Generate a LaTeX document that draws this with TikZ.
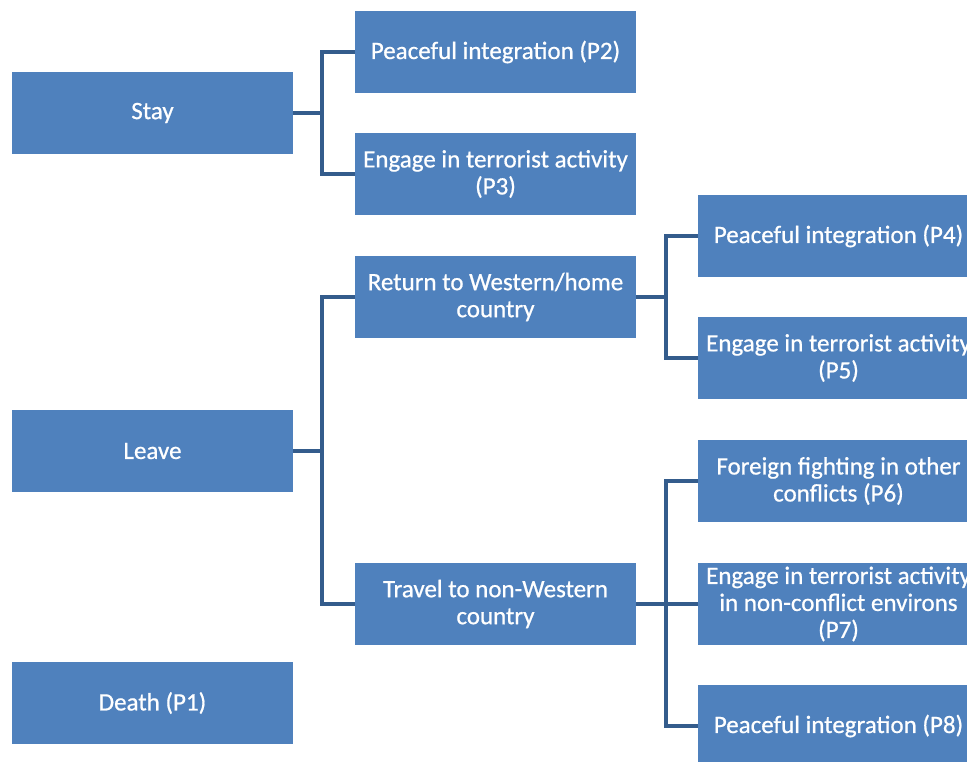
\documentclass[tikz,border=0pt]{standalone}
\usepackage{fontspec}
\setmainfont{Carlito}
\newfontfamily\boxfont[FakeBold=0.7]{Carlito}
\definecolor{boxblue}{RGB}{79,129,189}
\definecolor{linkblue}{RGB}{52,92,140}
\begin{document}
\begin{tikzpicture}[x=1pt,y=-1pt,
  box/.style={fill=boxblue, text=white, minimum width=281pt, minimum height=82pt,
    inner sep=0pt, align=center, font=\boxfont\fontsize{25}{27}\selectfont},
  link/.style={draw=linkblue, line width=4pt}]
\useasboundingbox (0,0) rectangle (967,762);
\clip (0,0) rectangle (967,762);
% column 1
\node[box] (stay)  at (152.5,113) {Stay};
\node[box] (leave) at (152.5,451) {Leave};
\node[box] (death) at (152.5,703) {Death (P1)};
% column 2
\node[box] (p2)     at (495.5,52)  {Peaceful integration (P2)};
\node[box] (p3)     at (495.5,174) {Engage in terrorist activity\\(P3)};
\node[box] (ret)    at (495.5,297) {Return to Western/home\\country};
\node[box] (trav)   at (495.5,604) {Travel to non-Western\\country};
% column 3
\node[box] (p4) at (838.5,236) {Peaceful integration (P4)};
\node[box] (p5) at (838.5,358) {Engage in terrorist activity\\(P5)};
\node[box] (p6) at (838.5,481) {Foreign fighting in other\\conflicts (P6)};
\node[box] (p7) at (838.5,604) {Engage in terrorist activity\\in non-conflict environs\\(P7)};
\node[box] (p8) at (838.5,726) {Peaceful integration (P8)};
% junctions
\coordinate (j1) at (322,113);
\coordinate (j2) at (322,451);
\coordinate (j3) at (666,297);
\coordinate (j4) at (666,604);
% connectors
\draw[link] (stay.east) -- (j1);
\draw[link] (p2.west) -| (j1) |- (p3.west);
\draw[link] (leave.east) -- (j2);
\draw[link] (ret.west) -| (j2) |- (trav.west);
\draw[link] (ret.east) -- (j3);
\draw[link] (p4.west) -| (j3) |- (p5.west);
\draw[link] (trav.east) -- (j4);
\draw[link] (p6.west) -| (j4) |- (p8.west);
\draw[link] (j4) -- (p7.west);
\end{tikzpicture}
\end{document}
